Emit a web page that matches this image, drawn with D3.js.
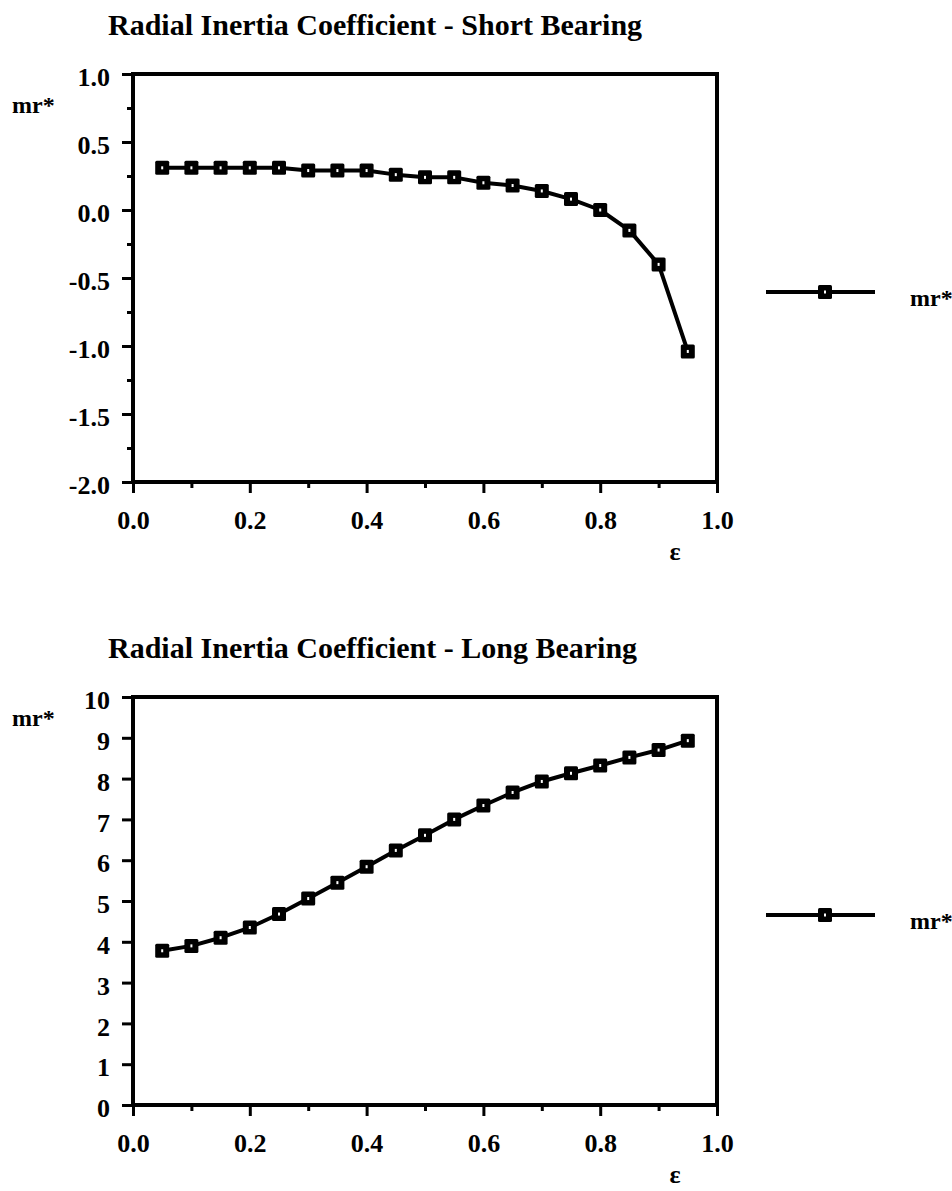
<!DOCTYPE html>
<html>
<head>
<meta charset="utf-8">
<script src="https://cdnjs.cloudflare.com/ajax/libs/d3/7.8.5/d3.min.js"></script>
<style>
    body { margin: 0; background: #fff; }
    svg text { font-family: "Liberation Serif", "Times New Roman", serif; font-weight: bold; fill: #000; }
    .axis line { stroke: #000; stroke-width: 3; }
    .axis path { display: none; }
    .axis text { font-size: 26px; }
    .frame { fill: none; stroke: #000; stroke-width: 4; }
    .line { fill: none; stroke: #000; stroke-width: 4; stroke-linejoin: round; }
</style>
</head>
<body>
<div id="graphHolder"></div>
<script>
'use strict'
// values
var epsilon = [0.05, 0.10, 0.15, 0.20, 0.25, 0.30, 0.35, 0.40, 0.45, 0.50,
               0.55, 0.60, 0.65, 0.70, 0.75, 0.80, 0.85, 0.90, 0.95];
var shortBearingMr = [0.31, 0.31, 0.31, 0.31, 0.31, 0.29, 0.29, 0.29, 0.26, 0.24,
                      0.24, 0.20, 0.18, 0.14, 0.08, 0.00, -0.15, -0.40, -1.04];
var longBearingMr = [3.78, 3.90, 4.10, 4.35, 4.68, 5.06, 5.45, 5.84, 6.24, 6.61,
                     7.00, 7.34, 7.66, 7.93, 8.13, 8.32, 8.52, 8.70, 8.93];

var xTicks = [0.0, 0.2, 0.4, 0.6, 0.8, 1.0];
var xMinorTicks = [0.1, 0.3, 0.5, 0.7, 0.9];
var shortYTicks = [-2.0, -1.5, -1.0, -0.5, 0.0, 0.5, 1.0];
var shortYMinorTicks = [-1.75, -1.25, -0.75, -0.25, 0.25, 0.75];
var longYTicks = [0, 1, 2, 3, 4, 5, 6, 7, 8, 9, 10];

var seriesName = "mr*";
var xLabel = "\u03b5";

function bearingChart() {
    var _chart = {};
    var _svg, _bodyG;
    var _origin = {x: 133, y: 74};
    var _width = 584, _height = 408;
    var _xScale, _yScale, _values, _title,
        _yTicks, _yMinorTicks = [], _yFormat = function (d) { return d; },
        _yLabelY = 39;

    _chart.render = function () {
        _xScale = d3.scaleLinear().domain([0, 1]).range([0, _width]);
        _yScale = _yScale.range([_height, 0]);

        _bodyG = _svg.append("g")
                .attr("transform", "translate(" + _origin.x + "," + _origin.y + ")");

        renderTexts();
        renderAxes();
        renderLine();
        renderLegend();
    };

    function renderTexts() {
        _bodyG.append("text")
                .attr("x", -25)
                .attr("y", -39)
                .style("font-size", "30px")
                .text(_title);

        _bodyG.append("text")
                .attr("x", -121)
                .attr("y", _yLabelY)
                .style("font-size", "24px")
                .text(seriesName);

        _bodyG.append("text")
                .attr("x", 542)
                .attr("y", _height + 78)
                .attr("text-anchor", "middle")
                .style("font-size", "26px")
                .text(xLabel);
    }

    function renderAxes() {
        _bodyG.append("g")
                .attr("class", "axis")
                .call(d3.axisLeft(_yScale).tickValues(_yTicks)
                        .tickSize(11).tickPadding(12).tickFormat(_yFormat))
                .selectAll("text").attr("dy", "0.45em");

        _bodyG.append("g")
                .attr("class", "axis")
                .call(d3.axisLeft(_yScale).tickValues(_yMinorTicks)
                        .tickSize(6).tickFormat(""));

        _bodyG.append("g")
                .attr("class", "axis")
                .attr("transform", "translate(0," + _height + ")")
                .call(d3.axisBottom(_xScale).tickValues(xTicks)
                        .tickSize(11).tickPadding(18)
                        .tickFormat(function (d) { return d.toFixed(1); }));

        _bodyG.append("g")
                .attr("class", "axis")
                .attr("transform", "translate(0," + _height + ")")
                .call(d3.axisBottom(_xScale).tickValues(xMinorTicks)
                        .tickSize(6).tickFormat(""));

        _bodyG.append("rect")
                .attr("class", "frame")
                .attr("width", _width)
                .attr("height", _height);
    }

    function renderLine() {
        var line = d3.line()
                .x(function (d, i) { return _xScale(epsilon[i]); })
                .y(function (d) { return _yScale(d); });

        _bodyG.append("path")
                .datum(_values)
                .attr("class", "line")
                .attr("d", line);

        _values.forEach(function (d, i) {
            marker(_bodyG, _xScale(epsilon[i]), _yScale(d));
        });
    }

    function renderLegend() {
        var y = Math.round(_height * 0.534);
        _bodyG.append("line")
                .attr("x1", 633).attr("x2", 742)
                .attr("y1", y).attr("y2", y)
                .attr("stroke", "#000")
                .attr("stroke-width", 4);
        marker(_bodyG, 692, y);
        _bodyG.append("text")
                .attr("x", 777)
                .attr("y", y + 14)
                .style("font-size", "24px")
                .text(seriesName);
    }

    // scanned markers are near-solid squares with a small light speck
    function marker(g, cx, cy) {
        g.append("rect")
                .attr("x", cx - 7).attr("y", cy - 7)
                .attr("width", 14).attr("height", 14)
                .attr("rx", 1.5)
                .attr("fill", "#000");
        g.append("rect")
                .attr("x", cx - 1).attr("y", cy - 1.5)
                .attr("width", 2).attr("height", 3)
                .attr("fill", "#fff");
    }

    _chart.svg = function (s) {
        if (!arguments.length) return _svg;
        _svg = s;
        return _chart;
    };
    _chart.origin = function (o) {
        if (!arguments.length) return _origin;
        _origin = o;
        return _chart;
    };
    _chart.yScale = function (y) {
        if (!arguments.length) return _yScale;
        _yScale = y;
        return _chart;
    };
    _chart.values = function (v) {
        if (!arguments.length) return _values;
        _values = v;
        return _chart;
    };
    _chart.title = function (t) {
        if (!arguments.length) return _title;
        _title = t;
        return _chart;
    };
    _chart.yTicks = function (t, minor) {
        _yTicks = t;
        _yMinorTicks = minor || [];
        return _chart;
    };
    _chart.yFormat = function (f) {
        _yFormat = f;
        return _chart;
    };
    _chart.yLabelY = function (v) {
        _yLabelY = v;
        return _chart;
    };
    return _chart;
}

var svg = d3.select("#graphHolder").append("svg")
        .attr("width", 952)
        .attr("height", 1191);

bearingChart()
        .svg(svg)
        .origin({x: 133, y: 74})
        .title("Radial Inertia Coefficient - Short Bearing")
        .yScale(d3.scaleLinear().domain([-2, 1]))
        .yTicks(shortYTicks, shortYMinorTicks)
        .yFormat(function (d) { return d.toFixed(1); })
        .yLabelY(39)
        .values(shortBearingMr)
        .render();

bearingChart()
        .svg(svg)
        .origin({x: 133, y: 697})
        .title("Radial Inertia Coefficient - Long Bearing")
        .yScale(d3.scaleLinear().domain([0, 10]))
        .yTicks(longYTicks)
        .yLabelY(29)
        .values(longBearingMr)
        .render();
</script>
</body>
</html>
